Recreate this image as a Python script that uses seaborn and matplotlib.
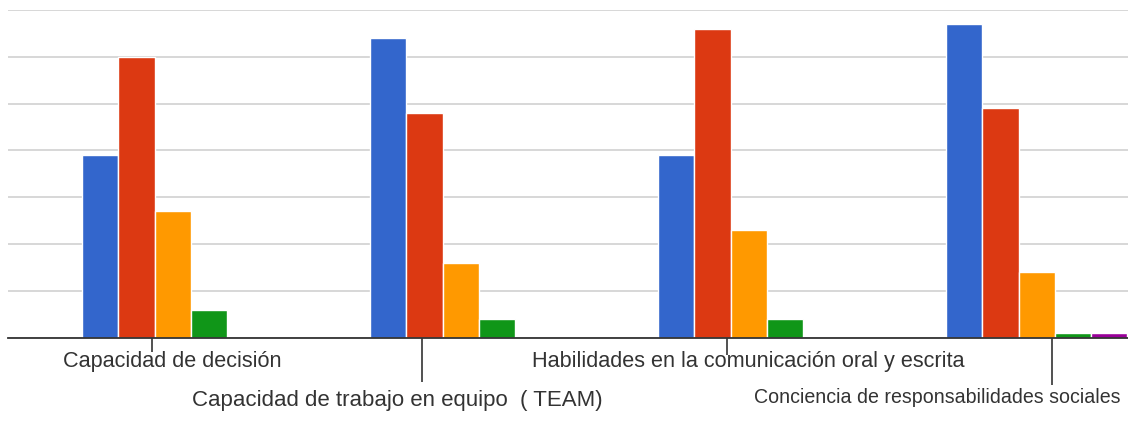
import pandas as pd
import matplotlib.pyplot as plt
import seaborn as sns

## datos
categorias = ["Capacidad de decisión",
              "Capacidad de trabajo en equipo  ( TEAM)",
              "Habilidades en la comunicación oral y escrita",
              "Conciencia de responsabilidades sociales"]
series = ["Serie 1", "Serie 2", "Serie 3", "Serie 4", "Serie 5"]
serie_1 = [39, 64, 39, 67]
serie_2 = [60, 48, 66, 49]
serie_3 = [27, 16, 23, 14]
serie_4 = [6, 4, 4, 1]
serie_5 = [0, 0, 0, 1]
colores = ["#3366cc", "#dc3912", "#ff9900", "#109618", "#990099"]

# posiciones de las marcas del eje x (como en la imagen)
pos_marcas = [-0.072, 0.865, 1.924, 3.053]
largo_marcas = [10, 32, 12, 34]

valores = [serie_1, serie_2, serie_3, serie_4, serie_5]
df = pd.DataFrame({
    'categoria': categorias * len(series),
    'serie': [s for s in series for _ in categorias],
    'valor': [v for fila in valores for v in fila],
})

sns.set_style('white')
plt.rcParams['font.family'] = ['Liberation Sans', 'DejaVu Sans']

fig, ax = plt.subplots(figsize=(11.28, 4.26), dpi=100)
fig.subplots_adjust(left=8/1128, right=1.0, bottom=1-337.7/426, top=1-9.9/426)

sns.barplot(data=df, x='categoria', y='valor', hue='serie', palette=colores,
            saturation=1, width=0.63, edgecolor='white', linewidth=1,
            legend=False, ax=ax)

ax.set_ylim(0, 70)
ax.set_xlim(-0.572, 3.317)
ax.set_yticks(range(0, 71, 10))
ax.set_yticklabels([])
ax.tick_params(axis='y', length=0)
ax.grid(axis='y', color='#d4d4d4', linewidth=1.3)
ax.set_axisbelow(True)
ax.set_xlabel('')
ax.set_ylabel('')

for lado in ['top', 'left', 'right']:
    ax.spines[lado].set_visible(False)
ax.spines['bottom'].set_color('#333333')
ax.spines['bottom'].set_linewidth(1.3)

ax.set_xticks(pos_marcas)
ax.set_xticklabels([])
ax.tick_params(axis='x', bottom=True, direction='out', color='#333333', width=1.2)
for t, largo in zip(ax.xaxis.get_major_ticks(), largo_marcas):
    t.tick1line.set_markersize(largo)

# etiquetas de categoria en dos filas
desplaz = [(0, -24, 15.6), (-63, -63, 16), (0, -24, 15.6), (-99, -60, 14.1)]
for i, (cat, (dx, dy, fs)) in enumerate(zip(categorias, desplaz)):
    ax.annotate(cat, xy=(i, 0), xycoords=('data', 'axes fraction'),
                xytext=(dx, dy), textcoords='offset pixels',
                ha='center', va='center', fontsize=fs, color='#333333')

plt.savefig('out.png', dpi=100)
